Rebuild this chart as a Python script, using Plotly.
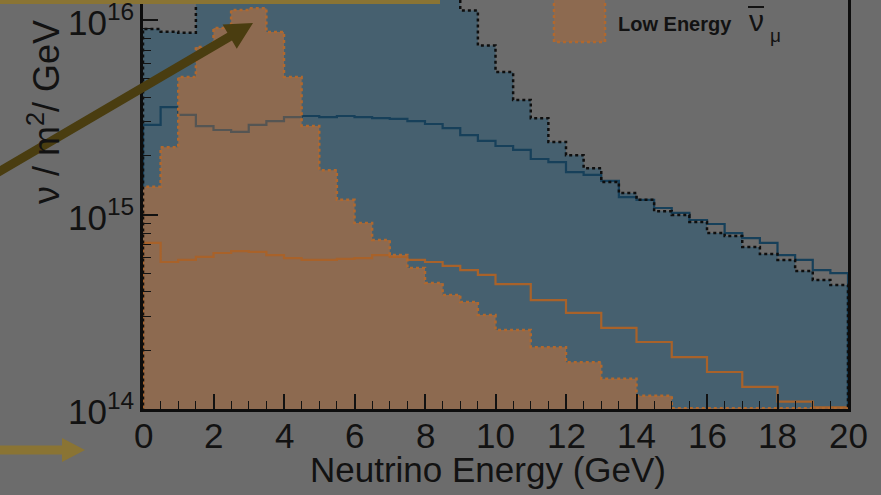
import numpy as np
import plotly.graph_objects as go

# ---------------- data (flux in units of 1e14 nu / m^2 / GeV) ----------------
SCALE = 1e14
edges_fine = np.arange(0, 20.01, 0.5)                                  # 0.5 GeV bins
edges_coarse = np.concatenate([np.arange(0, 10.01, 0.5), np.arange(11, 20.01, 1.0)])  # 0.5 then 1 GeV bins

total_flux = [90, 87, 86, 150, 210, 260, 290, 300, 290, 270, 250, 230, 210, 195, 180, 165, 150, 135, 112, 74,
              54.0, 38.8, 31.3, 23.6, 20.2, 17.3, 14.7, 12.9, 11.9, 10.4, 9.94, 9.15, 8.03, 7.75, 6.81, 6.26,
              5.84, 5.12, 4.61, 4.34]
blue_line = [28.9, 35.7, 32.5, 28.5, 27.2, 26.6, 28.9, 30.2, 31.7, 32.1, 31.7, 32.1, 31.7, 31.3, 31.0, 30.2,
             29.2, 27.8, 25.6, 23.9, 22.5, 21.5, 19.3, 18.6, 16.5, 16.0, 14.9, 12.3, 11.9, 10.8, 10.2, 9.37,
             8.94, 8.03, 7.57, 7.14, 6.19, 5.84, 5.18, 5.00]
low_energy_numubar = [13.9, 22.2, 50.9, 72.6, 91.0, 112.6, 115, 86.8, 50.9, 28.5, 16.9, 11.9, 9.04, 7.39, 6.19,
                      5.31, 4.44, 3.86, 3.55, 3.04, 2.55, 2.08, 1.74, 1.43, 1.17, 1.01, 1.01, 1.01, 1.01, 1.01]
orange_line = [7.14, 5.70, 5.84, 6.05, 6.34, 6.49, 6.42, 6.19, 5.97, 5.84, 5.84, 5.91, 5.97, 6.19, 6.05, 5.84,
               5.70, 5.44, 5.18, 4.89, 4.39, 3.63, 3.12, 2.61, 2.21, 1.85, 1.55, 1.30, 1.09, 1.02]

x_ticks = list(range(0, 21, 2))
y_ticks = [1e14, 1e15, 1e16]
y_ticktext = ["10<sup>14</sup>", "10<sup>15</sup>", "10<sup>16</sup>"]
legend_label = "Low Energy"

# ---------------- styles ----------------
BG = "#6c6c6c"
BLUE_FILL = "#46606f"
ORANGE_FILL = "#8d6a50"
BLUE_LINE = "#17405a"
ORANGE_LINE = "#a8622a"
ORANGE_DOT = "#b0682e"
GRAY_LINE = "#555553"
INK = "#121212"
GOLD = "#8a7434"
DARK_OLIVE = "#4a3d10"
FONT = "Liberation Sans, Arial, sans-serif"

W, H = 881, 495
L, R, T, B = 143, 848, 0, 409
BASE = 1e13


def step(edges, vals):
    xs = [edges[0]]
    ys = [BASE]
    for i, v in enumerate(vals):
        xs += [edges[i], edges[i + 1]]
        ys += [v * SCALE, v * SCALE]
    xs.append(edges[-1])
    ys.append(BASE)
    return xs, ys


def px(x):
    return (x - L) / (R - L)


def py(y):
    return (B - y) / (B - T)


fig = go.Figure()

# blue filled total with black dotted outline
xs, ys = step(edges_fine, total_flux)
fig.add_trace(go.Scatter(x=xs, y=ys, mode="lines", fill="toself", fillcolor=BLUE_FILL,
                         line=dict(width=0), hoverinfo="skip"))
# blue solid line
xb, yb = step(edges_fine, blue_line)
fig.add_trace(go.Scatter(x=xb, y=yb, mode="lines", line=dict(color=BLUE_LINE, width=2.2), hoverinfo="skip"))
# orange filled low-energy numubar
xo, yo = step(edges_coarse, low_energy_numubar)
fig.add_trace(go.Scatter(x=xo, y=yo, mode="lines", fill="toself", fillcolor=ORANGE_FILL,
                         line=dict(width=0), hoverinfo="skip"))
# blue line seen through the orange fill (greyish)
of_fine = list(low_energy_numubar[:20]) + list(np.repeat(low_energy_numubar[20:], 2))
gx, gy = [], []
for i, v in enumerate(blue_line):
    if of_fine[i] > v:
        gx += [edges_fine[i], edges_fine[i + 1]]
        gy += [v * SCALE, v * SCALE]
    else:
        gx += [edges_fine[i]]
        gy += [None]
fig.add_trace(go.Scatter(x=gx, y=gy, mode="lines", line=dict(color=GRAY_LINE, width=2.2),
                         connectgaps=False, hoverinfo="skip"))
# orange solid line
xl, yl = step(edges_coarse, orange_line)
fig.add_trace(go.Scatter(x=xl, y=yl, mode="lines", line=dict(color=ORANGE_LINE, width=2.2), hoverinfo="skip"))
# orange dotted outline
fig.add_trace(go.Scatter(x=xo, y=yo, mode="lines", line=dict(color=ORANGE_DOT, width=2.5, dash="dot"),
                         hoverinfo="skip"))
# black dotted outline
fig.add_trace(go.Scatter(x=xs, y=ys, mode="lines", line=dict(color="#0e0e0e", width=2.5, dash="dot"),
                         hoverinfo="skip"))

minor_y = [k * 10 ** e for e in (14, 15) for k in range(2, 10)]

fig.update_layout(
    width=W, height=H,
    margin=dict(l=L, r=W - R, t=T, b=H - B),
    paper_bgcolor=BG, plot_bgcolor=BG,
    showlegend=False,
    font=dict(family=FONT, color=INK),
    xaxis=dict(range=[0, 20], tickvals=x_ticks, ticks="inside", ticklen=15, tickwidth=1.5, tickcolor=INK,
               showline=True, linewidth=2.5, linecolor="#0d0d0d", mirror=False, showgrid=False,
               zeroline=False, showticklabels=False,
               minor=dict(dtick=0.5, tick0=0, ticks="inside", ticklen=8, tickwidth=1.2, tickcolor=INK,
                          showgrid=False)),
    yaxis=dict(type="log", range=[14, 16.103], tickvals=y_ticks, ticks="inside",
               ticklen=15, tickwidth=1.5, tickcolor=INK, showline=True, linewidth=2.5, linecolor="#0d0d0d",
               mirror=True, showgrid=False, zeroline=False, showticklabels=False,
               minor=dict(tickvals=minor_y, ticks="inside", ticklen=8, tickwidth=1.2, tickcolor=INK,
                          showgrid=False)),
)

shapes = []
# gold bar on top
shapes.append(dict(type="rect", xref="paper", yref="paper", x0=px(0), x1=px(440), y0=py(0) + 0.01, y1=py(4),
                   fillcolor=GOLD, line=dict(width=0), layer="above"))


def arrow_path(tail, tip, hw, head_len, head_hw):
    t = np.array(tail, float)
    p = np.array(tip, float)
    d = p - t
    u = d / np.linalg.norm(d)
    n = np.array([-u[1], u[0]])
    b = p - u * head_len
    pts = [t + n * hw, b + n * hw, b + n * head_hw, p, b - n * head_hw, b - n * hw, t - n * hw]
    return "M " + " L ".join(f"{px(q[0]):.5f},{py(q[1]):.5f}" for q in pts) + " Z"


shapes.append(dict(type="path", xref="paper", yref="paper", path=arrow_path((-10, 177), (253, 23), 4.5, 27, 14),
                   fillcolor=DARK_OLIVE, line=dict(width=0), layer="above"))
shapes.append(dict(type="path", xref="paper", yref="paper", path=arrow_path((-10, 450), (85, 450), 4.5, 23, 12),
                   fillcolor=GOLD, line=dict(width=0), layer="above"))
# legend swatch
shapes.append(dict(type="rect", xref="paper", yref="paper", x0=px(554), x1=px(605), y0=py(-6), y1=py(42),
                   fillcolor=ORANGE_FILL, line=dict(color=ORANGE_DOT, width=2.5, dash="dot"), layer="above"))
# overline of anti-neutrino symbol
shapes.append(dict(type="line", xref="paper", yref="paper", x0=px(748), x1=px(764), y0=py(7), y1=py(7),
                   line=dict(color=INK, width=2), layer="above"))
fig.update_layout(shapes=shapes)

ann = [
    dict(text="Neutrino Energy (GeV)", xref="paper", yref="paper", x=px(488), y=py(469),
         xanchor="center", yanchor="middle", font=dict(size=35, color=INK)),
    dict(text="ν / m<sup>2</sup>/ GeV", xref="paper", yref="paper", x=px(44), y=py(112), textangle=-90,
         xanchor="center", yanchor="middle", font=dict(size=36, color=INK)),
    dict(text="<b>" + legend_label + "</b>", xref="paper", yref="paper", x=px(675), y=py(24),
         xanchor="center", yanchor="middle", font=dict(size=20, color=INK)),
    dict(text="ν", xref="paper", yref="paper", x=px(756), y=py(21),
         xanchor="center", yanchor="middle", font=dict(size=30, color=INK)),
    dict(text="μ", xref="paper", yref="paper", x=px(775), y=py(36),
         xanchor="center", yanchor="middle", font=dict(size=19, color=INK)),
]
# x tick labels placed through the x axis
for v in x_ticks:
    ann.append(dict(text=str(v), xref="x", yref="paper", x=v, y=py(435), xanchor="center", yanchor="middle",
                    font=dict(size=35, color=INK)))
# y tick labels placed through the (log) y axis
for v, t in zip(y_ticks, y_ticktext):
    ann.append(dict(text=t, xref="paper", yref="y", x=px(136), y=float(np.log10(v)), xanchor="right",
                    yanchor="middle", font=dict(size=35, color=INK)))
for a in ann:
    a.update(showarrow=False)
fig.update_layout(annotations=ann)

fig.write_html("out.html")
